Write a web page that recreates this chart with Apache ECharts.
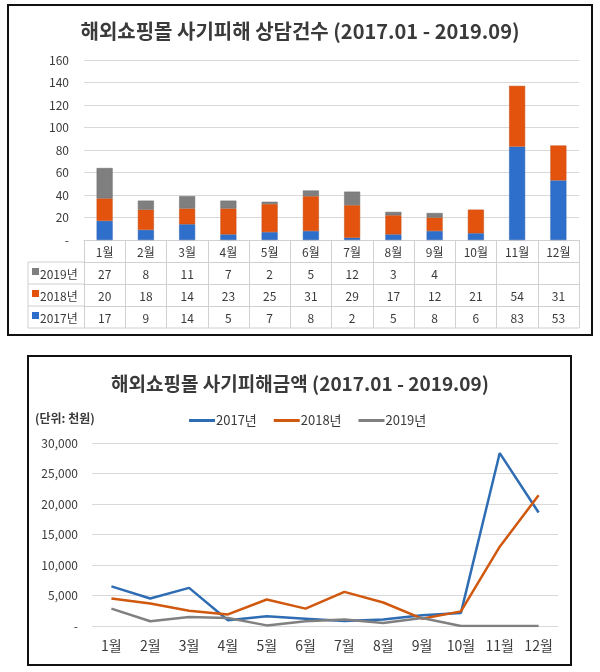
<!DOCTYPE html>
<html>
<head>
<meta charset="utf-8">
<script src="https://cdn.jsdelivr.net/npm/echarts@6/dist/echarts.min.js"></script>
<style>
  html, body { margin: 0; padding: 0; background: #fff; }
  #chart { width: 600px; height: 672px; }
</style>
</head>
<body>
<div id="chart"></div>
<script>
// 월 / 연도
var months = ['1월', '2월', '3월', '4월', '5월', '6월', '7월', '8월', '9월', '10월', '11월', '12월'];
var years = ['2017년', '2018년', '2019년'];

// 상담건수 (표에 적힌 값)
var count2017 = [17, 9, 14, 5, 7, 8, 2, 5, 8, 6, 83, 53];
var count2018 = [20, 18, 14, 23, 25, 31, 29, 17, 12, 21, 54, 31];
var count2019 = [27, 8, 11, 7, 2, 5, 12, 3, 4, null, null, null];

// 피해금액 (단위: 천원, 그림에서 읽은 값)
var amount2017 = [6500, 4500, 6250, 950, 1600, 1200, 800, 1050, 1750, 2150, 28350, 18600];
var amount2018 = [4500, 3700, 2500, 1900, 4350, 2850, 5600, 3850, 1200, 2400, 13000, 21450];
var amount2019 = [2850, 770, 1480, 1300, 100, 770, 1050, 500, 1300, 0, 0, 0];

var countTicks = { min: 0, max: 160, interval: 20 };
var amountTicks = { min: 0, max: 30000, interval: 5000 };

var FONT = '"Noto Sans CJK KR", "Noto Sans", sans-serif';
var TXT = '#3A3A3A';
var colors = { y2017: '#2F6FCC', y2018: '#E4530E', y2019: '#7F7F7F' };
var lineColors = { y2017: '#2E6DB4', y2018: '#D0580F', y2019: '#808080' };
var tableLine = '#D0D0D0';

var chart = echarts.init(document.getElementById('chart'));

function tableAxis(data, offset) {
  return {
    type: 'category', gridIndex: 0, position: 'bottom', offset: offset,
    data: data.map(function (v) { return v == null ? '' : String(v); }),
    axisLine: { show: true, lineStyle: { color: tableLine, width: 1 } },
    axisTick: { show: true, length: 22, lineStyle: { color: tableLine } },
    axisLabel: { interval: 0, margin: 6, fontSize: 12, color: TXT, fontFamily: FONT },
    splitLine: { show: false }
  };
}

// 표 왼쪽 머리칸 (범례 색 + 연도)
var rowHeaders = [
  { name: '2019년', color: colors.y2019, y: 262 },
  { name: '2018년', color: colors.y2018, y: 284 },
  { name: '2017년', color: colors.y2017, y: 306 }
];
var headerGraphics = [];
rowHeaders.forEach(function (r) {
  headerGraphics.push({
    type: 'rect', shape: { x: 32, y: r.y + 6, width: 7, height: 7 },
    style: { fill: r.color }
  });
  headerGraphics.push({
    type: 'text', x: 40, y: r.y + 12,
    style: { text: r.name, fill: TXT, font: '12px ' + FONT, textVerticalAlign: 'middle' }
  });
  headerGraphics.push({
    type: 'line', shape: { x1: 28, y1: r.y, x2: 84, y2: r.y },
    style: { stroke: tableLine, lineWidth: 1 }
  });
});
headerGraphics.push(
  { type: 'line', shape: { x1: 28, y1: 328, x2: 579, y2: 328 }, style: { stroke: tableLine, lineWidth: 1 } },
  { type: 'line', shape: { x1: 28, y1: 262, x2: 28, y2: 328 }, style: { stroke: tableLine, lineWidth: 1 } },
  // 바깥 테두리
  { type: 'rect', shape: { x: 8, y: 5, width: 584, height: 330 }, style: { fill: null, stroke: '#111', lineWidth: 2 } },
  { type: 'rect', shape: { x: 28, y: 356, width: 543, height: 309 }, style: { fill: null, stroke: '#111', lineWidth: 2 } },
  {
    type: 'text', x: 35, y: 418,
    style: { text: '(단위: 천원)', fill: TXT, font: '600 12px ' + FONT, textVerticalAlign: 'middle' }
  }
);

chart.setOption({
  animation: false,
  backgroundColor: '#fff',
  title: [
    {
      text: '해외쇼핑몰 사기피해 상담건수 (2017.01 - 2019.09)',
      left: 'center', top: 16,
      textStyle: { fontSize: 20, fontWeight: 'bold', color: TXT, fontFamily: FONT }
    },
    {
      text: '해외쇼핑몰 사기피해금액 (2017.01 - 2019.09)',
      left: 'center', top: 369,
      textStyle: { fontSize: 19, fontWeight: 'bold', color: TXT, fontFamily: FONT }
    }
  ],
  legend: {
    data: [
      { name: '2017년 ', itemStyle: { color: lineColors.y2017 } },
      { name: '2018년 ', itemStyle: { color: lineColors.y2018 } },
      { name: '2019년 ', itemStyle: { color: lineColors.y2019 } }
    ],
    top: 409, left: 184,
    icon: 'rect', itemWidth: 26, itemHeight: 3, itemGap: 14,
    textStyle: { fontSize: 13, color: TXT, fontFamily: FONT, padding: [0, 0, 0, -4] }
  },
  grid: [
    { left: 84, width: 495, top: 60, height: 180 },
    { left: 92, width: 466, top: 443, height: 183 }
  ],
  xAxis: [
    {
      type: 'category', gridIndex: 0, data: months,
      axisLine: { show: true, lineStyle: { color: tableLine } },
      axisTick: { show: true, length: 22, lineStyle: { color: tableLine } },
      axisLabel: { interval: 0, margin: 6, fontSize: 12, color: TXT, fontFamily: FONT }
    },
    tableAxis(count2019, 22),
    tableAxis(count2018, 44),
    tableAxis(count2017, 66),
    {
      type: 'category', gridIndex: 1, data: months,
      axisLine: { show: false }, axisTick: { show: false },
      axisLabel: { interval: 0, margin: 13, fontSize: 14, color: TXT, fontFamily: FONT }
    }
  ],
  yAxis: [
    {
      type: 'value', gridIndex: 0,
      min: countTicks.min, max: countTicks.max, interval: countTicks.interval,
      axisLine: { show: false }, axisTick: { show: false },
      axisLabel: {
        margin: 15, fontSize: 12, color: TXT, fontFamily: FONT,
        formatter: function (v) { return v === 0 ? '-' : v; }
      },
      splitLine: { lineStyle: { color: '#D9D9D9' } }
    },
    {
      type: 'value', gridIndex: 1,
      min: amountTicks.min, max: amountTicks.max, interval: amountTicks.interval,
      axisLine: { show: false }, axisTick: { show: false },
      axisLabel: {
        margin: 14, fontSize: 12, color: TXT, fontFamily: FONT,
        formatter: function (v) { return v === 0 ? '-' : v.toLocaleString('en-US'); }
      },
      splitLine: { lineStyle: { color: '#D9D9D9' } }
    }
  ],
  series: [
    {
      name: years[0], type: 'bar', stack: 'count', xAxisIndex: 0, yAxisIndex: 0,
      barWidth: 16, data: count2017,
      itemStyle: { color: colors.y2017, borderColor: '#2A5EAA', borderWidth: 0.5 }
    },
    {
      name: years[1], type: 'bar', stack: 'count', xAxisIndex: 0, yAxisIndex: 0,
      barWidth: 16, data: count2018,
      itemStyle: { color: colors.y2018, borderColor: '#C04A10', borderWidth: 0.5 }
    },
    {
      name: years[2], type: 'bar', stack: 'count', xAxisIndex: 0, yAxisIndex: 0,
      barWidth: 16, data: count2019,
      itemStyle: { color: colors.y2019, borderColor: '#6A6A6A', borderWidth: 0.5 }
    },
    {
      name: '2017년 ', type: 'line', xAxisIndex: 4, yAxisIndex: 1,
      data: amount2017, showSymbol: false, symbol: 'none',
      lineStyle: { color: lineColors.y2017, width: 2.5 }
    },
    {
      name: '2018년 ', type: 'line', xAxisIndex: 4, yAxisIndex: 1,
      data: amount2018, showSymbol: false, symbol: 'none',
      lineStyle: { color: lineColors.y2018, width: 2.5 }
    },
    {
      name: '2019년 ', type: 'line', xAxisIndex: 4, yAxisIndex: 1,
      data: amount2019, showSymbol: false, symbol: 'none',
      lineStyle: { color: lineColors.y2019, width: 2.5 }
    }
  ],
  graphic: headerGraphics
});
</script>
</body>
</html>
